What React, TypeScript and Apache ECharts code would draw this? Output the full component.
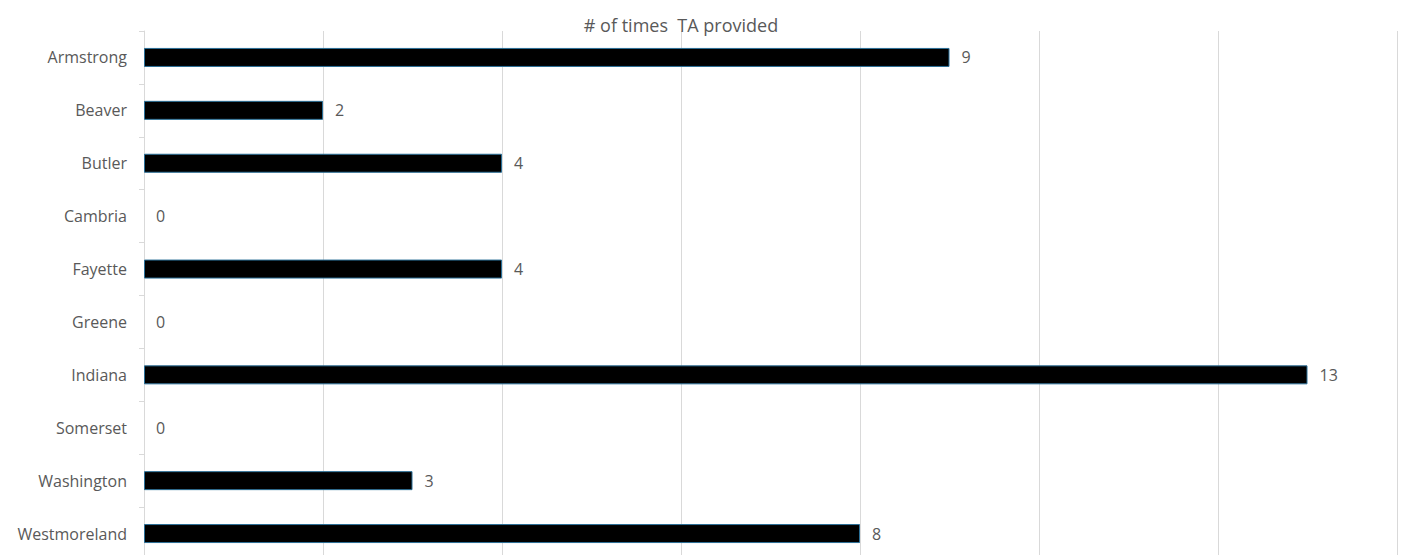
import React, { useEffect, useRef } from "react";
import * as echarts from "echarts";

const categories = ["Armstrong", "Beaver", "Butler", "Cambria", "Fayette", "Greene", "Indiana", "Somerset", "Washington", "Westmoreland"];
const values = [9, 2, 4, 0, 4, 0, 13, 0, 3, 8];
const titleText = "# of times  TA provided";

export default function App() {
  const ref = useRef<HTMLDivElement>(null);
  useEffect(() => {
    const chart = echarts.init(ref.current!, null, { renderer: "svg" });
    chart.setOption({
      animation: false,
      backgroundColor: "#ffffff",
      title: {
        text: titleText,
        left: 676,
        top: 11,
        textAlign: "center",
        textStyle: { fontFamily: "Open Sans", fontSize: 18, fontWeight: "normal", color: "#595959" },
      },
      grid: { left: 144, right: 9, top: 31, bottom: 0, containLabel: false },
      xAxis: {
        type: "value",
        min: 0,
        max: 14,
        interval: 2,
        axisLabel: { show: false },
        axisLine: { show: false },
        axisTick: { show: false },
        splitLine: { show: true, lineStyle: { color: "#d9d9d9", width: 1 } },
      },
      yAxis: {
        type: "category",
        data: categories,
        inverse: true,
        axisLine: { show: true, lineStyle: { color: "#d9d9d9", width: 1 } },
        axisTick: { show: true, length: 5, lineStyle: { color: "#d9d9d9" } },
        axisLabel: { margin: 17, fontFamily: "Open Sans", fontSize: 16, color: "#595959" },
        splitLine: { show: false },
      },
      series: [
        {
          type: "bar",
          data: values.map((v) => ({ value: v, itemStyle: { borderWidth: v === 0 ? 0 : 1 } })),
          barWidth: 19,
          itemStyle: { color: "#000000", borderColor: "#2a6f97", borderWidth: 1 },
          label: {
            show: true,
            position: "right",
            distance: 12,
            fontFamily: "Open Sans",
            fontSize: 16,
            color: "#595959",
          },
        },
      ],
    });
    return () => chart.dispose();
  }, []);
  return <div ref={ref} style={{ position: "fixed", left: 0, top: 0, width: 1406, height: 560 }} />;
}
